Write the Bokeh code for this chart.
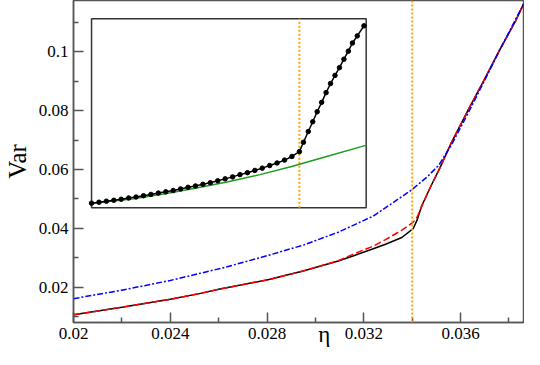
from bokeh.plotting import figure
from bokeh.models import Range1d, FixedTicker, Span, CustomJSTickFormatter
from bokeh.embed import file_html
from bokeh.resources import INLINE

# ---------------- data ----------------
# main panel: black solid and red dashed curves
eta_main = [0.0200, 0.0220, 0.0240, 0.02525, 0.0260, 0.02808, 0.02953, 0.03094,
            0.03161, 0.03239, 0.0329, 0.03357, 0.03404, 0.03420, 0.03439, 0.03475,
            0.03514, 0.03565, 0.03631, 0.03698, 0.03761, 0.03827, 0.0386]
var_black = [0.0106, 0.0132, 0.0159, 0.0179, 0.0193, 0.0226, 0.0256, 0.0289,
             0.0308, 0.0331, 0.0346, 0.0369, 0.0399, 0.0428, 0.0476, 0.0540,
             0.0605, 0.0697, 0.0802, 0.0906, 0.1006, 0.1105, 0.1163]
var_red = [0.0106, 0.0132, 0.0159, 0.0179, 0.0193, 0.0226, 0.0256, 0.0290,
           0.0314, 0.0340, 0.0362, 0.0394, 0.0421, 0.0438, 0.0474, 0.0540,
           0.0605, 0.0697, 0.0802, 0.0906, 0.1006, 0.1105, 0.1163]
# main panel: blue dash-dot curve
eta_blue = [0.0200, 0.0220, 0.0240, 0.02624, 0.02808, 0.02953, 0.03094, 0.03239,
            0.03396, 0.03463, 0.03510, 0.03565, 0.03631, 0.03698, 0.03761, 0.0386]
var_blue = [0.0161, 0.0190, 0.0223, 0.0267, 0.0309, 0.0344, 0.0387, 0.0442,
            0.0530, 0.0576, 0.0615, 0.0688, 0.0792, 0.0901, 0.1005, 0.1163]
eta_critical = 0.0340

# inset: black line with dots, green line
inset_eta = [0.0284, 0.0286, 0.0288, 0.0290, 0.0292, 0.0294, 0.0296, 0.0298,
             0.0300, 0.0302, 0.0304, 0.0306, 0.0308, 0.0310, 0.0312, 0.0314,
             0.0316, 0.0318, 0.0320, 0.0322, 0.0324, 0.0326, 0.0328, 0.0330,
             0.0332, 0.0334, 0.0336, 0.0338, 0.0340,
             0.03411, 0.03424, 0.03436, 0.03448, 0.03460, 0.03472, 0.03484,
             0.03496, 0.03508, 0.03520, 0.03532, 0.03543, 0.03556, 0.03574]
inset_var = [0.03072, 0.03087, 0.03103, 0.03118, 0.03134, 0.03154, 0.03170, 0.03190,
             0.03211, 0.03232, 0.03252, 0.03273, 0.03298, 0.03324, 0.03345, 0.03371,
             0.03396, 0.03427, 0.03458, 0.03489, 0.03525, 0.03556, 0.03592, 0.03628,
             0.03669, 0.03710, 0.03756, 0.03813, 0.03890,
             0.04039, 0.04209, 0.04364, 0.04523, 0.04672, 0.04827, 0.04971,
             0.05100, 0.05223, 0.05357, 0.05485, 0.05614, 0.05727, 0.05887]
green_eta = [0.0284, 0.02953, 0.03038, 0.03123, 0.03208, 0.03294, 0.03379, 0.03464, 0.03581]
green_var = [0.03067, 0.03144, 0.03221, 0.03314, 0.03412, 0.03525, 0.03654, 0.03798, 0.03993]

# axes
x_ticks = [0.02, 0.024, 0.028, 0.032, 0.036]
x_tick_labels = ["0.02", "0.024", "0.028", "0.032", "0.036"]
x_minor = [0.022, 0.026, 0.030, 0.034, 0.038]
y_ticks = [0.02, 0.04, 0.06, 0.08, 0.1]
y_tick_labels = ["0.02", "0.04", "0.06", "0.08", "0.1"]
y_minor = [0.01, 0.03, 0.05, 0.07, 0.09, 0.11]
x_title = "η"
y_title = "Var"

# ---------------- layout / style ----------------
X0, X1 = 0.02, 0.0386
Y0, Y1 = 0.008, 0.1175
IX0, IX1 = 0.0284, 0.0358
IY0, IY1 = 0.030, 0.060
# inset box as fractions of the main frame
FX0, FX1, FY0, FY1 = 0.0401, 0.6504, 0.3565, 0.9435
X_TITLE_SHIFT = "\u00a0" * 9   # non-breaking spaces push the centred η to the right

FONT = "'Liberation Serif'"
AX = "#555555"

p = figure(width=524, height=349, output_backend="svg", toolbar_location=None,
           x_range=Range1d(X0, X1), y_range=Range1d(Y0, Y1),
           min_border_left=0, min_border_right=1, min_border_top=0,
           min_border_bottom=0)
p.background_fill_color = "white"
p.border_fill_color = "white"
p.xgrid.visible = False
p.ygrid.visible = False
p.outline_line_color = AX
p.outline_line_width = 1.5

fmt_code = """
let best = 0; let d = Infinity;
for (let i = 0; i < tvals.length; i++) {
  const e = Math.abs(tvals[i] - tick);
  if (e < d) { d = e; best = i; }
}
return tlabels[best];
"""

for ax, ticks, labels, minor in ((p.xaxis[0], x_ticks, x_tick_labels, x_minor),
                                 (p.yaxis[0], y_ticks, y_tick_labels, y_minor)):
    ax.ticker = FixedTicker(ticks=ticks, minor_ticks=minor)
    ax.formatter = CustomJSTickFormatter(args=dict(tvals=ticks, tlabels=labels), code=fmt_code)
    ax.major_tick_in = 10
    ax.major_tick_out = 0
    ax.minor_tick_in = 5
    ax.minor_tick_out = 0
    ax.axis_line_color = AX
    ax.axis_line_width = 1.5
    ax.major_tick_line_color = AX
    ax.major_tick_line_width = 1.5
    ax.minor_tick_line_color = AX
    ax.minor_tick_line_width = 1.5
    ax.major_label_text_font = FONT
    ax.major_label_text_font_size = "17px"
    ax.major_label_text_color = "black"
    ax.major_label_standoff = 5
    ax.axis_label_text_font = FONT
    ax.axis_label_text_font_style = "normal"
    ax.axis_label_text_color = "black"

p.xaxis.axis_label = X_TITLE_SHIFT + x_title
p.xaxis.axis_label_text_font_size = "23px"
p.xaxis.axis_label_standoff = -20
p.yaxis.axis_label = y_title
p.yaxis.axis_label_text_font_size = "25px"
p.yaxis.axis_label_standoff = 5

# main curves
p.line(eta_main, var_black, line_color="black", line_width=1.5)
p.line(eta_main, var_red, line_color="#ff0000", line_width=1.5, line_dash="7 3")
p.line(eta_blue, var_blue, line_color="#0000ff", line_width=1.5, line_dash="6 2 2 2")
p.add_layout(Span(location=eta_critical, dimension="height", line_color="#ffa500",
                  line_width=2, line_dash="2 2"))

# inset via extra ranges mapped into the inset box
sx = (IX1 - IX0) / (FX1 - FX0)
sy = (IY1 - IY0) / (FY1 - FY0)
p.extra_x_ranges = {"ix": Range1d(IX0 - FX0 * sx, IX1 + (1 - FX1) * sx)}
p.extra_y_ranges = {"iy": Range1d(IY0 - FY0 * sy, IY1 + (1 - FY1) * sy)}

p.quad(left=[IX0], right=[IX1], bottom=[IY0], top=[IY1], x_range_name="ix",
       y_range_name="iy", fill_color="white", line_color="#333333", line_width=1.5)
p.segment(x0=[eta_critical], y0=[IY0], x1=[eta_critical], y1=[IY1], x_range_name="ix",
          y_range_name="iy", line_color="#ffa500", line_width=2, line_dash="2 2")
p.line(green_eta, green_var, x_range_name="ix", y_range_name="iy",
       line_color="#1f9a1f", line_width=1.5)
p.line(inset_eta, inset_var, x_range_name="ix", y_range_name="iy",
       line_color="black", line_width=1.5)
p.scatter(inset_eta, inset_var, x_range_name="ix", y_range_name="iy",
          size=4.5, fill_color="black", line_color="black")

open("out.html", "w").write(file_html(p, INLINE))
